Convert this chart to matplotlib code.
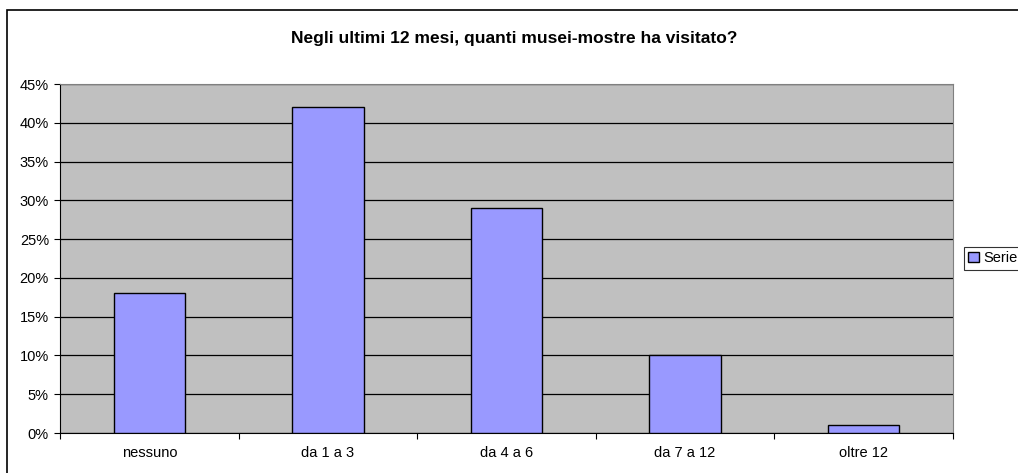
import matplotlib.pyplot as plt
from matplotlib.patches import Rectangle
from matplotlib.ticker import PercentFormatter

categories = ["nessuno", "da 1 a 3", "da 4 a 6", "da 7 a 12", "oltre 12"]
values = [18, 42, 29, 10, 1]
series_name = "Serie1"
title = "Negli ultimi 12 mesi, quanti musei-mostre ha visitato?"

plt.rcParams['font.family'] = ['Liberation Sans', 'DejaVu Sans']

fig = plt.figure(figsize=(10.18, 4.73), dpi=100)
W, H = 1018, 473
# outer chart border (right/bottom clipped off like the original)
fig.add_artist(Rectangle((7 / W, -0.1), 1.2, (H - 10) / H + 0.1, transform=fig.transFigure,
                         fill=False, edgecolor='black', linewidth=1.2))

ax = fig.add_axes([60 / W, (H - 433) / H, (953 - 60) / W, (433 - 84) / H])
ax.set_facecolor('#c0c0c0')

x = range(len(categories))
bars = ax.bar(x, values, width=0.4, color='#9999ff', edgecolor='black', linewidth=1,
              label=series_name, zorder=3)

ax.set_xlim(-0.5, len(categories) - 0.5)
ax.set_ylim(0, 45)
ax.set_yticks(range(0, 46, 5))
ax.yaxis.set_major_formatter(PercentFormatter(decimals=0))
ax.yaxis.grid(True, color='black', linewidth=0.9, zorder=1)
ax.set_axisbelow(True)

ax.set_xticks([i + 0.5 for i in range(-1, len(categories))], minor=False)
ax.set_xticklabels([])
ax.set_xticks(list(x), minor=True)
ax.set_xticklabels(categories, minor=True)
ax.tick_params(axis='x', which='major', length=4, direction='out', color='black')
ax.tick_params(axis='x', which='minor', length=0, pad=9, labelsize=10.5)
ax.tick_params(axis='y', length=4, direction='out', labelsize=10.5, pad=4)

for side in ['top', 'right']:
    ax.spines[side].set_color('#808080')
ax.spines['left'].set_color('black')
ax.spines['bottom'].set_color('black')

fig.text(0.5 + 5 / W, (H - 38) / H, title, ha='center', va='center', fontsize=12.5,
         fontweight='bold')

leg = fig.legend(handles=[bars], labels=[series_name], loc='upper left',
                 bbox_to_anchor=(964 / W, (H - 247) / H), fontsize=10.5, frameon=True,
                 fancybox=False, edgecolor='black', handlelength=0.7, handleheight=0.7,
                 handletextpad=0.3, borderpad=0.3, borderaxespad=0)
leg.get_frame().set_linewidth(0.8)

fig.savefig("out.png", dpi=100)
